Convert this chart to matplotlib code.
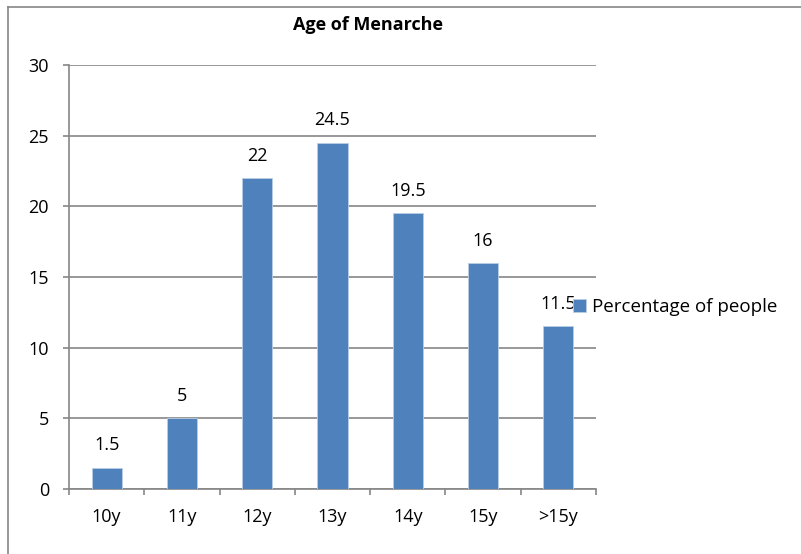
import numpy as np
import matplotlib.pyplot as plt
from matplotlib.lines import Line2D

categories = ['10y', '11y', '12y', '13y', '14y', '15y', '>15y']
percentages = [1.5, 5, 22, 24.5, 19.5, 16, 11.5]
y_ticks = [0, 5, 10, 15, 20, 25, 30]

plt.rcParams['font.family'] = ['Open Sans', 'DejaVu Sans']

fig = plt.figure(figsize=(8.01, 5.54), dpi=100)
ax = fig.add_axes([0.0861, 0.1173, 0.658, 0.7654])

x = np.arange(len(categories))
ax.bar(x, percentages, width=0.4, color='#4F81BD', edgecolor='#B9CDE5',
       linewidth=0.6, label='Percentage of people', zorder=3)

for xi, v in zip(x, percentages):
    ax.annotate(f'{v:g}', (xi, v), xytext=(0, 12.5), textcoords='offset points',
                ha='center', va='baseline', fontsize=13)

ax.set_xlim(-0.5, len(categories) - 0.5)
ax.set_ylim(0, 30)
ax.set_yticks(y_ticks)
ax.yaxis.grid(True, color='#868686', linewidth=1.2)
ax.set_axisbelow(True)

# category separators as ticks on the x axis
ax.set_xticks(np.arange(-0.5, len(categories)), minor=False)
ax.set_xticklabels([])
ax.set_xticks(x, minor=True)
ax.set_xticklabels(categories, minor=True)
ax.tick_params(axis='x', which='major', length=4.3, width=1.2, color='#868686', direction='out')
ax.tick_params(axis='x', which='minor', length=0, pad=14, labelsize=13)
ax.tick_params(axis='y', length=4.3, width=1.2, color='#868686', direction='out', pad=10, labelsize=13)

for side in ['top', 'right']:
    ax.spines[side].set_visible(False)
for side in ['left', 'bottom']:
    ax.spines[side].set_color('#868686')
    ax.spines[side].set_linewidth(1.2)

# title sits right of the plot centre, as in the original
ax.set_title('Age of Menarche', fontsize=13, fontweight='bold', pad=25, x=0.567)

ax.legend(loc='center left', bbox_to_anchor=(0.7154, 0.4458), bbox_transform=fig.transFigure,
          frameon=False, fontsize=13.5, handlelength=0.7, handleheight=0.7,
          handletextpad=0.3, borderaxespad=0, borderpad=0)

# outer frame of the chart
fig.add_artist(Line2D([0.010, 0.010], [0, 0.987], color='#868686', linewidth=1.2))
fig.add_artist(Line2D([0.010, 1.0], [0.987, 0.987], color='#868686', linewidth=1.2))

fig.savefig('out.png', dpi=100)
